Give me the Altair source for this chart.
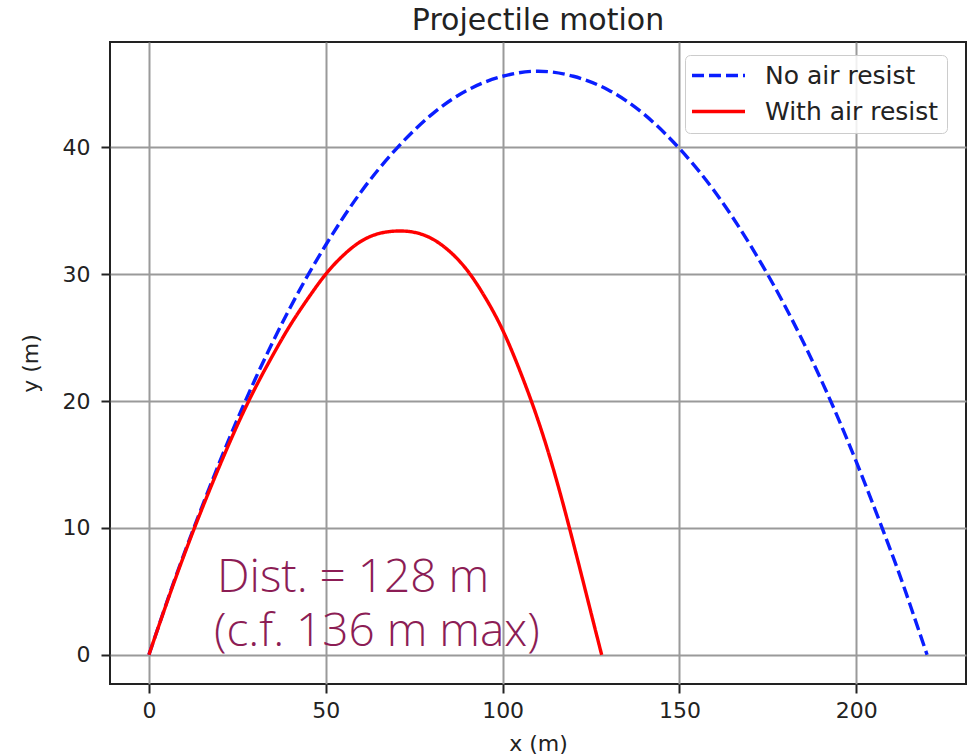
import altair as alt
import pandas as pd

# --- data ---
blue_x = [0, 5, 10, 20, 30, 40, 50, 60, 70, 80, 90, 100, 110, 120, 130, 140, 150, 160, 170, 180, 190, 200, 210, 215, 220]
blue_y = [0, 4.1, 8.0, 15.2, 21.7, 27.4, 32.3, 36.5, 39.9, 42.6, 44.5, 45.6, 46.0, 45.6, 44.5, 42.6, 39.9, 36.5, 32.3, 27.4, 21.7, 15.2, 8.0, 4.1, 0]

red_x = [0, 5, 10, 15, 20, 25, 30, 35, 40, 45, 50, 55, 60, 65, 70, 75, 80, 85, 90, 95, 100, 105, 110, 115, 120, 125, 128]
red_y = [0, 4.05, 7.9, 11.5, 14.9, 18.1, 21.0, 23.6, 26.0, 28.1, 30.0, 31.5, 32.6, 33.2, 33.4, 33.3, 32.8, 31.8, 30.3, 28.2, 25.6, 22.3, 18.5, 14.0, 8.8, 3.3, 0]

series_names = ["No air resist", "With air resist"]
x_ticks = [0, 50, 100, 150, 200]
y_ticks = [0, 10, 20, 30, 40]
annot_lines = ["Dist. = 128 m", "(c.f. 136 m max)"]
chart_title = "Projectile motion"

df = pd.concat([
    pd.DataFrame({"x": blue_x, "y": blue_y, "series": series_names[0], "order": range(len(blue_x))}),
    pd.DataFrame({"x": red_x, "y": red_y, "series": series_names[1], "order": range(len(red_x))}),
], ignore_index=True)

FONT = "DejaVu Sans"
INK = "#222222"

x_enc = alt.X("x:Q",
              scale=alt.Scale(domain=[-11, 231], nice=False, zero=False),
              axis=alt.Axis(values=x_ticks, title="x (m)", titleY=66, titleBaseline="alphabetic",
                            labelPadding=7))
y_enc = alt.Y("y:Q",
              scale=alt.Scale(domain=[-2.3, 48.3], nice=False, zero=False),
              axis=alt.Axis(values=y_ticks, title="y (m)", titleX=-73, titleY=321,
                            titleBaseline="alphabetic", titleAngle=270, titleAlign="center",
                            labelPadding=11))

legend = alt.Legend(title=None, orient="none", legendX=575, legendY=13,
                    symbolType="M-2.65,0H2.65", symbolSize=400, symbolStrokeWidth=3.5,
                    symbolOffset=13,
                    labelFontSize=25, labelFont=FONT, labelColor=INK, labelLimit=400,
                    labelOffset=34, rowPadding=10, padding=8,
                    fillColor="rgba(255,255,255,0.85)", strokeColor="#cccccc",
                    cornerRadius=5)

lines = alt.Chart(df).mark_line(strokeWidth=3.4, interpolate="natural").encode(
    x=x_enc,
    y=y_enc,
    order="order:Q",
    color=alt.Color("series:N",
                    scale=alt.Scale(domain=series_names, range=["#0a1eff", "#ff0000"]),
                    legend=legend),
    strokeDash=alt.StrokeDash("series:N",
                              scale=alt.Scale(domain=series_names, range=[[12, 5], [1, 0]]),
                              legend=legend),
)

text_color = "#8c1d55"
t1 = alt.Chart(pd.DataFrame({"t": [annot_lines[0]]})).mark_text(
    align="left", baseline="alphabetic", font="Open Sans", fontWeight=300, fontSize=46, color=text_color
).encode(x=alt.value(107), y=alt.value(550), text="t:N")
t2 = alt.Chart(pd.DataFrame({"t": [annot_lines[1]]})).mark_text(
    align="left", baseline="alphabetic", font="Open Sans", fontWeight=300, fontSize=46, color=text_color
).encode(x=alt.value(104), y=alt.value(604), text="t:N")

title_mark = alt.Chart(pd.DataFrame({"t": [chart_title]})).mark_text(
    align="center", baseline="alphabetic", font=FONT, fontSize=30, color=INK
).encode(x=alt.value(428), y=alt.value(-12), text="t:N")

chart = alt.layer(lines, t1, t2, title_mark).properties(
    width=856, height=642,
    background="white",
    autosize=alt.AutoSizeParams(type="none"),
    padding={"left": 110, "top": 42, "right": 5, "bottom": 70},
).configure_view(
    stroke=INK, strokeWidth=2
).configure_axis(
    grid=True, gridColor="#9a9a9a", gridWidth=2,
    domain=False,
    tickColor=INK, tickWidth=2, tickSize=9,
    labelFont=FONT, labelFontSize=22, labelColor=INK,
    titleFont=FONT, titleFontSize=22, titleFontWeight="normal", titleColor=INK,
)

chart.save("out.html", embed_options={"renderer": "svg", "actions": False})
